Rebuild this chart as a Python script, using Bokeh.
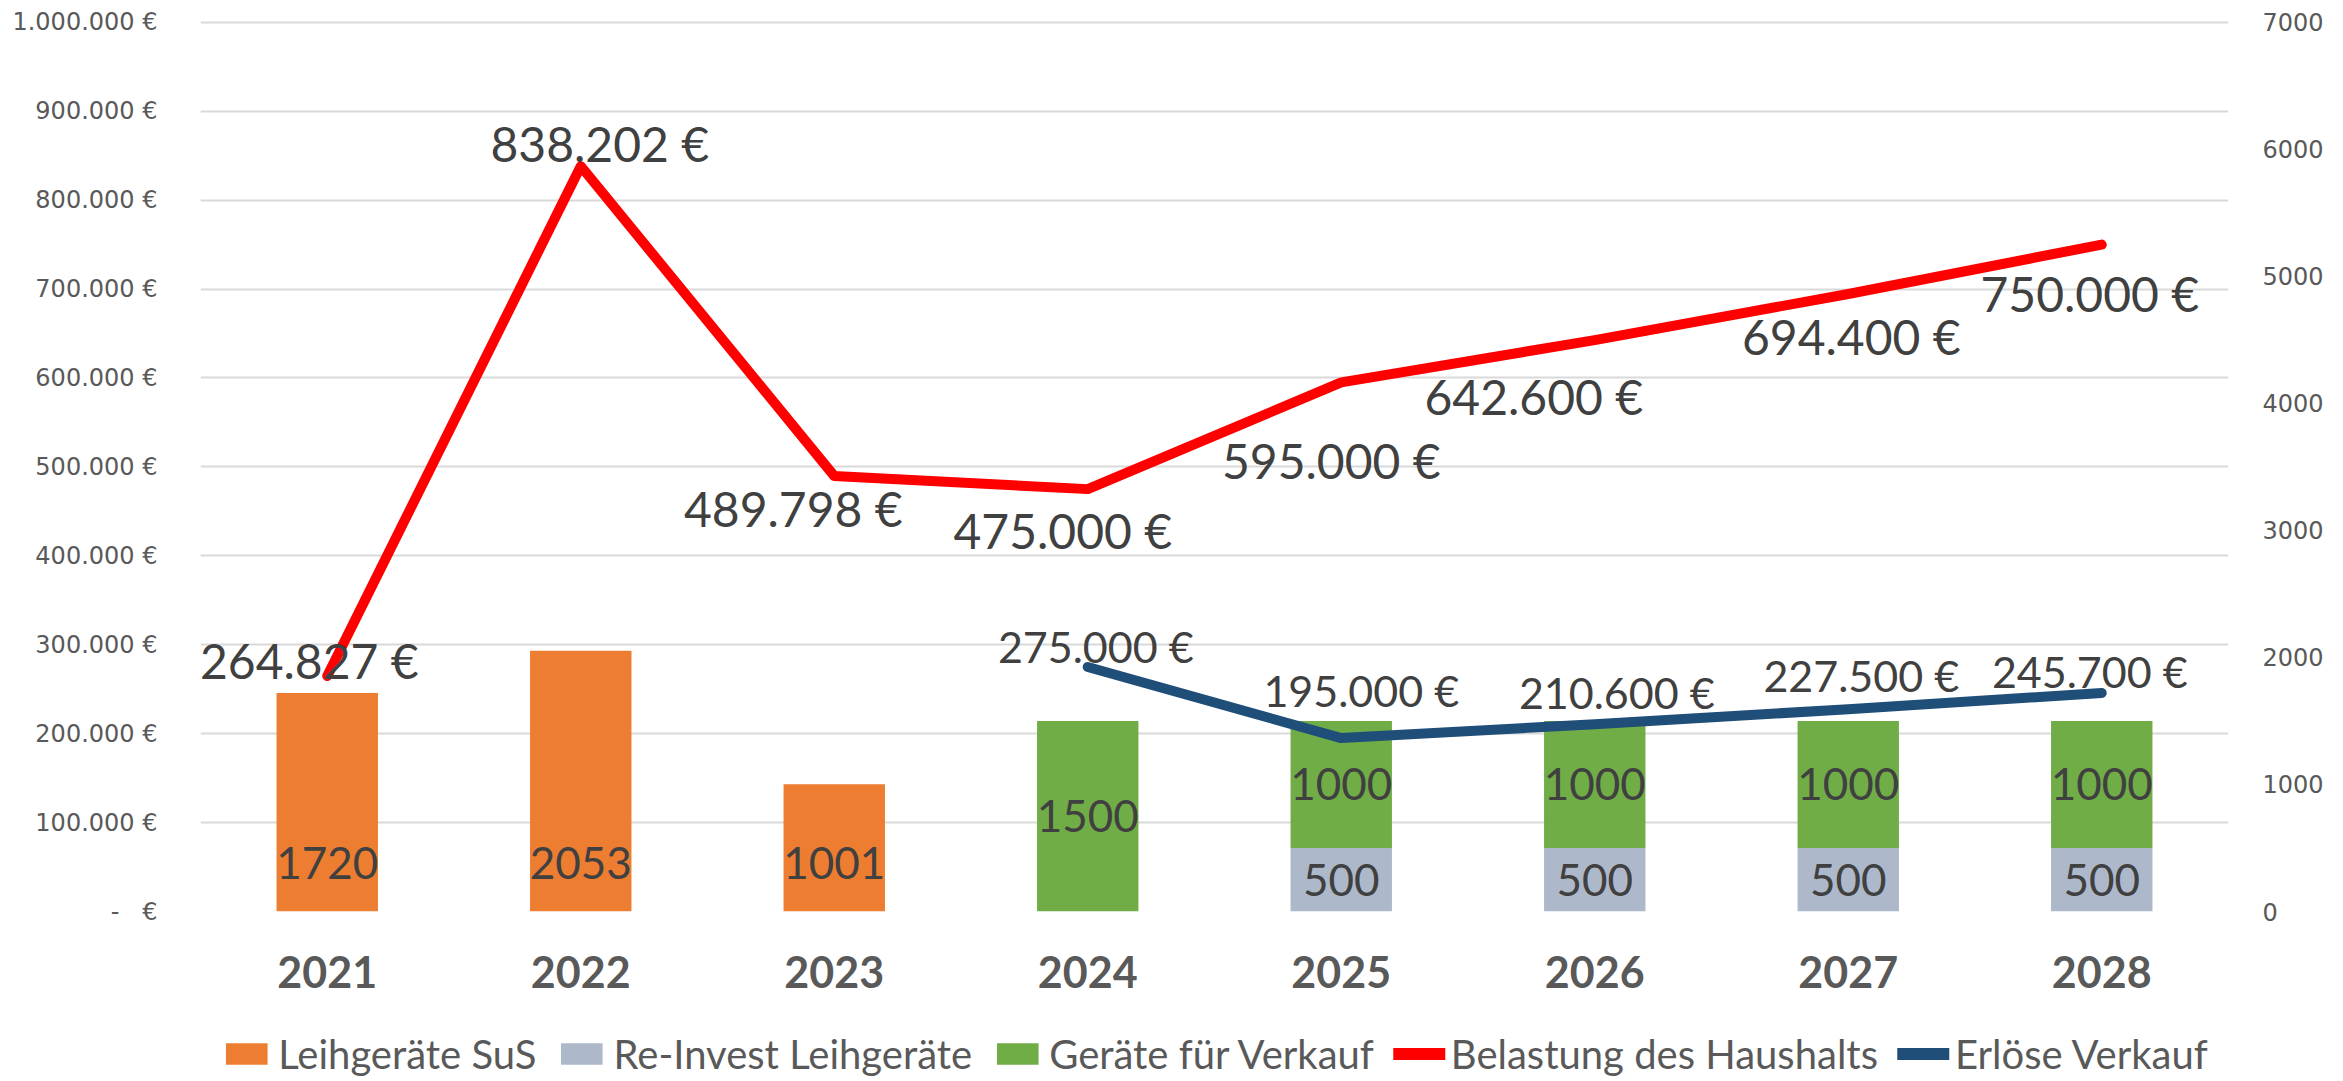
from bokeh.plotting import figure
from bokeh.layouts import column
from bokeh.models import (FactorRange, Range1d, LinearAxis, FixedTicker, CustomJSTickFormatter,
                          ColumnDataSource, Legend, LegendItem, LabelSet)
from bokeh.core.properties import value
from bokeh.embed import file_html
from bokeh.resources import INLINE

# ---------------- data ----------------
years = ["2021", "2022", "2023", "2024", "2025", "2026", "2027", "2028"]
leihgeraete_sus = [1720, 2053, 1001, 0, 0, 0, 0, 0]
re_invest = [0, 0, 0, 0, 500, 500, 500, 500]
geraete_verkauf = [0, 0, 0, 1500, 1000, 1000, 1000, 1000]
belastung = [264827, 838202, 489798, 475000, 595000, 642600, 694400, 750000]
erloese_years = ["2024", "2025", "2026", "2027", "2028"]
erloese = [275000, 195000, 210600, 227500, 245700]
left_ticks = [0, 100000, 200000, 300000, 400000, 500000, 600000, 700000, 800000, 900000, 1000000]
right_ticks = [0, 1000, 2000, 3000, 4000, 5000, 6000, 7000]
series_names = ["Leihgeräte SuS", "Re-Invest Leihgeräte", "Geräte für Verkauf",
                "Belastung des Haushalts", "Erlöse Verkauf"]

# label placement (screen px, + = right / up)
belastung_label_dx = [-18, 19, -41, -25, -10, -61, 3, -12]
belastung_label_dy = [16, 23, -33, -41, -78, -56, -42, -49]
erloese_label_dx = [8, 20, 22, 13, -12]
erloese_label_dy = [20, 48, 32, 34, 22]

# ---------------- style ----------------
C_ORANGE = "#ED7D31"
C_GREY = "#ADB9CA"
C_GREEN = "#70AD47"
C_RED = "#FF0000"
C_BLUE = "#1F4E79"
C_TEXT = "#404040"
C_AXIS = "#595959"
LABEL_FONT = "Lato"
TICK_FONT = "DejaVu Sans"


def euro(v):
    return f"{v:,}".replace(",", ".") + " €"


p = figure(width=2343, height=1026, x_range=FactorRange(*years), y_range=Range1d(0, 1002000),
           output_backend="svg", toolbar_location=None,
           min_border_left=200, min_border_right=115, min_border_top=20, min_border_bottom=115)
p.outline_line_color = None
p.background_fill_color = "white"
p.border_fill_color = "white"
p.extra_y_ranges = {"right": Range1d(0, 7014)}

# bars (right axis)
src_bars = ColumnDataSource(dict(years=years, sus=leihgeraete_sus, re=re_invest, verk=geraete_verkauf))
p.vbar_stack(["sus", "re", "verk"], x="years", width=0.4, source=src_bars,
             color=[C_ORANGE, C_GREY, C_GREEN], line_color=None, y_range_name="right")

# lines (left axis)
src_bel = ColumnDataSource(dict(x=years, y=belastung, text=[euro(v) for v in belastung],
                                dx=belastung_label_dx, dy=belastung_label_dy))
src_erl = ColumnDataSource(dict(x=erloese_years, y=erloese, text=[euro(v) for v in erloese],
                                dx=erloese_label_dx, dy=erloese_label_dy))
p.line("x", "y", source=src_bel, line_color=C_RED, line_width=10, line_cap="round", line_join="round")
p.line("x", "y", source=src_erl, line_color=C_BLUE, line_width=10, line_cap="round", line_join="round")

# line labels
p.add_layout(LabelSet(x="x", y="y", text="text", source=src_bel, x_offset="dx", y_offset="dy",
                      text_font=value(LABEL_FONT), text_font_size="48px", text_color=C_TEXT,
                      text_align="center", text_baseline="middle"))
p.add_layout(LabelSet(x="x", y="y", text="text", source=src_erl, x_offset="dx", y_offset="dy",
                      text_font=value(LABEL_FONT), text_font_size="43px", text_color=C_TEXT,
                      text_align="center", text_baseline="middle"))

# bar labels
sus_x = [y for y, v in zip(years, leihgeraete_sus) if v > 0]
sus_v = [v for v in leihgeraete_sus if v > 0]
src_sus_lab = ColumnDataSource(dict(x=sus_x, y=[0] * len(sus_v), text=[str(v) for v in sus_v]))
p.text("x", "y", text="text", source=src_sus_lab, y_offset=-49, y_range_name="right",
       text_font=value(LABEL_FONT), text_font_size="44px", text_color=C_TEXT,
       text_align="center", text_baseline="middle")
re_x = [y for y, v in zip(years, re_invest) if v > 0]
re_v = [v for v in re_invest if v > 0]
src_re_lab = ColumnDataSource(dict(x=re_x, y=[v / 2 for v in re_v], text=[str(v) for v in re_v]))
p.text("x", "y", text="text", source=src_re_lab, y_range_name="right",
       text_font=value(LABEL_FONT), text_font_size="44px", text_color=C_TEXT,
       text_align="center", text_baseline="middle")
vk = [(y, r, g) for y, r, g in zip(years, re_invest, geraete_verkauf) if g > 0]
src_vk_lab = ColumnDataSource(dict(x=[a for a, _, _ in vk], y=[r + g / 2 for _, r, g in vk],
                                   text=[str(g) for _, _, g in vk]))
p.text("x", "y", text="text", source=src_vk_lab, y_range_name="right",
       text_font=value(LABEL_FONT), text_font_size="44px", text_color=C_TEXT,
       text_align="center", text_baseline="middle")

# axes
p.xgrid.grid_line_color = None
p.ygrid.grid_line_color = "#D9D9D9"
p.ygrid.grid_line_width = 2
p.ygrid.ticker = FixedTicker(ticks=left_ticks)

p.xaxis.axis_line_color = None
p.xaxis.major_tick_line_color = None
p.xaxis.minor_tick_line_color = None
p.xaxis.major_label_text_font = LABEL_FONT
p.xaxis.major_label_text_font_style = "bold"
p.xaxis.major_label_text_font_size = "43px"
p.xaxis.major_label_text_color = C_AXIS
p.xaxis.major_label_standoff = 38

ly = p.yaxis[0]
ly.ticker = FixedTicker(ticks=left_ticks)
ly.formatter = CustomJSTickFormatter(code=r"""
const v = Math.round(tick);
if (v === 0) { return "-\u00a0\u00a0\u00a0\u20ac"; }
return v.toString().replace(/\B(?=(\d{3})+(?!\d))/g, ".") + " \u20ac";
""")
ly.axis_line_color = None
ly.major_tick_line_color = None
ly.minor_tick_line_color = None
ly.major_label_text_font = TICK_FONT
ly.major_label_text_font_size = "24px"
ly.major_label_text_color = C_AXIS
ly.major_label_standoff = 37

ry = LinearAxis(y_range_name="right", ticker=FixedTicker(ticks=right_ticks))
ry.axis_line_color = None
ry.major_tick_line_color = None
ry.minor_tick_line_color = None
ry.major_label_text_font = TICK_FONT
ry.major_label_text_font_size = "24px"
ry.major_label_text_color = C_AXIS
ry.major_label_standoff = 28
p.add_layout(ry, "right")

# ---------------- legend strip (hidden copies of the series supply the legend swatches) ----------------
lg = figure(width=2343, height=55, x_range=FactorRange(*years), y_range=Range1d(0, 1),
            output_backend="svg", toolbar_location=None, min_border=0,
            x_axis_type=None, y_axis_type=None)
lg.outline_line_color = None
lg.grid.grid_line_color = None
lg.background_fill_color = "white"
lg.border_fill_color = "white"
lr = list(lg.vbar_stack(["sus", "re", "verk"], x="years", width=0.4, source=src_bars,
                        color=[C_ORANGE, C_GREY, C_GREEN], line_color=None))
lr.append(lg.line("x", "y", source=src_bel, line_color=C_RED, line_width=12, line_cap="round"))
lr.append(lg.line("x", "y", source=src_erl, line_color=C_BLUE, line_width=12, line_cap="round"))
for r in lr:
    r.visible = False

legend = Legend(items=[LegendItem(label=n, renderers=[r]) for n, r in zip(series_names, lr)],
                orientation="horizontal", location="center", nrows=1, click_policy="none")
legend.label_text_font = LABEL_FONT
legend.label_text_font_size = "40px"
legend.label_text_color = C_AXIS
legend.glyph_width = 52
legend.glyph_height = 27
legend.label_standoff = 6
legend.spacing = 19
legend.padding = 0
legend.margin = 0
legend.border_line_color = None
legend.background_fill_alpha = 0
legend.inactive_fill_alpha = 0
lg.add_layout(legend, "center")

layout = column(p, lg, spacing=0)
open("out.html", "w", encoding="utf-8").write(file_html(layout, INLINE))
